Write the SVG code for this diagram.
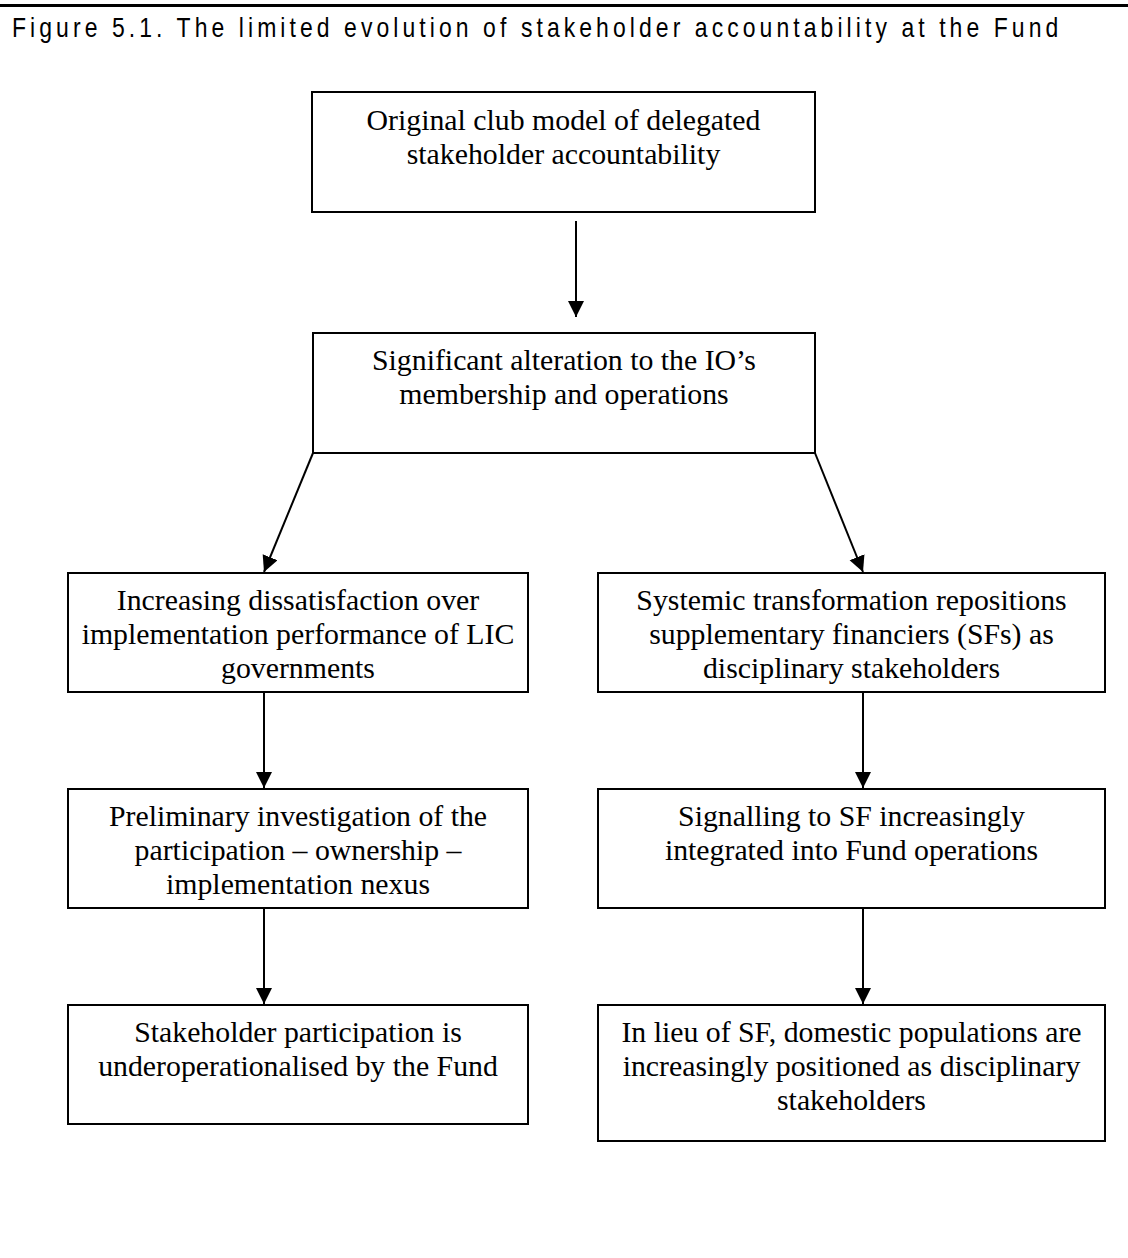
<svg xmlns="http://www.w3.org/2000/svg" width="1128" height="1258" viewBox="0 0 1128 1258">
<style>
.box{fill:#fff;stroke:#000;stroke-width:2}
.t{font-family:'Liberation Serif','Times New Roman',serif;font-size:29.8px;fill:#000;text-anchor:middle}
.c{fill:none;stroke:#000;stroke-width:2}
.title{font-family:'Liberation Sans',Arial,sans-serif;font-size:28px;fill:#000}
</style>
<defs>
<marker id="ah" markerUnits="userSpaceOnUse" markerWidth="18" markerHeight="18" refX="16" refY="8" orient="auto">
<path d="M0,0 L16,8 L0,16 Z" fill="#000"/>
</marker>
</defs>
<rect width="1128" height="1258" fill="#fff"/>
<line x1="0" y1="5.5" x2="1128" y2="5.5" stroke="#000" stroke-width="3"/>
<text class="title" transform="scale(0.82,1)" x="14.6" y="37" textLength="1276" lengthAdjust="spacing">Figure 5.1. The limited evolution of stakeholder accountability at the Fund</text>

<g id="n1"><rect class="box" x="312" y="92" width="503" height="120"/>
<text class="t" x="563.5" y="130">Original club model of delegated</text>
<text class="t" x="563.5" y="164">stakeholder accountability</text></g>

<g id="n2"><rect class="box" x="313" y="333" width="502" height="120"/>
<text class="t" x="564" y="370">Significant alteration to the IO’s</text>
<text class="t" x="564" y="404">membership and operations</text></g>

<g id="n3"><rect class="box" x="68" y="573" width="460" height="119"/>
<text class="t" x="298" y="610">Increasing dissatisfaction over</text>
<text class="t" x="298" y="644">implementation performance of LIC</text>
<text class="t" x="298" y="678">governments</text></g>

<g id="n4"><rect class="box" x="598" y="573" width="507" height="119"/>
<text class="t" x="851.5" y="610">Systemic transformation repositions</text>
<text class="t" x="851.5" y="644">supplementary financiers (SFs) as</text>
<text class="t" x="851.5" y="678">disciplinary stakeholders</text></g>

<g id="n5"><rect class="box" x="68" y="789" width="460" height="119"/>
<text class="t" x="298" y="826">Preliminary investigation of the</text>
<text class="t" x="298" y="860">participation – ownership –</text>
<text class="t" x="298" y="894">implementation nexus</text></g>

<g id="n6"><rect class="box" x="598" y="789" width="507" height="119"/>
<text class="t" x="851.5" y="826">Signalling to SF increasingly</text>
<text class="t" x="851.5" y="860">integrated into Fund operations</text></g>

<g id="n7"><rect class="box" x="68" y="1005" width="460" height="119"/>
<text class="t" x="298" y="1042">Stakeholder participation is</text>
<text class="t" x="298" y="1076">underoperationalised by the Fund</text></g>

<g id="n8"><rect class="box" x="598" y="1005" width="507" height="136"/>
<text class="t" x="851.5" y="1042">In lieu of SF, domestic populations are</text>
<text class="t" x="851.5" y="1076">increasingly positioned as disciplinary</text>
<text class="t" x="851.5" y="1110">stakeholders</text></g>

<g id="connectors">
<line class="c" x1="576" y1="221" x2="576" y2="317" marker-end="url(#ah)"/>
<line class="c" x1="313" y1="453" x2="264" y2="572" marker-end="url(#ah)"/>
<line class="c" x1="815" y1="453" x2="863" y2="572" marker-end="url(#ah)"/>
<line class="c" x1="264" y1="692" x2="264" y2="788" marker-end="url(#ah)"/>
<line class="c" x1="863" y1="692" x2="863" y2="788" marker-end="url(#ah)"/>
<line class="c" x1="264" y1="908" x2="264" y2="1004" marker-end="url(#ah)"/>
<line class="c" x1="863" y1="908" x2="863" y2="1004" marker-end="url(#ah)"/>
</g>
</svg>
